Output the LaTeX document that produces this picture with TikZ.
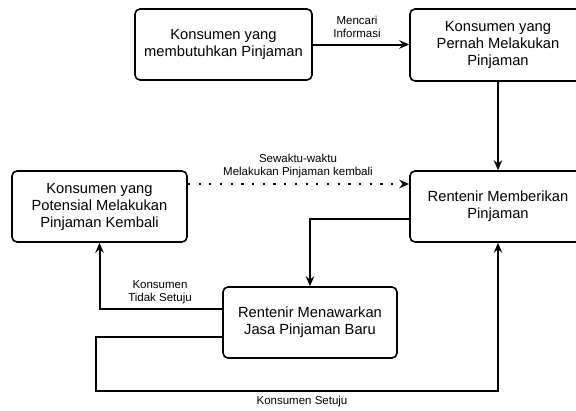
\documentclass[tikz,border=0pt]{standalone}
\usepackage{fontspec}
\setmainfont{Liberation Sans}
\usetikzlibrary{arrows.meta}
\begin{document}
\begin{tikzpicture}[x=1pt,y=-1pt,
  box/.style={draw=black, line width=1.6pt, rounded corners=5pt, fill=white,
    align=center, inner sep=0pt,
    font=\fontsize{14.7}{17}\selectfont},
  conn/.style={line width=2pt, -{Stealth[length=10pt,width=8.5pt,inset=3.5pt]}},
  dotconn/.style={conn, dash pattern=on 2.2pt off 8.5pt},
  lbl/.style={align=center, inner sep=0pt, font=\fontsize{11.5}{13}\selectfont}]
  \useasboundingbox (0,0) rectangle (576,410);
  \clip (0,0) rectangle (576,410);
  \fill[white] (0,0) rectangle (576,410);

  % process boxes
  \node[box, minimum width=177pt, minimum height=71pt] (need) at (223.5,44.5)
    {Konsumen yang\\membutuhkan Pinjaman};
  \node[box, minimum width=176pt, minimum height=72pt] (past) at (498,45)
    {Konsumen yang\\Pernah Melakukan\\Pinjaman};
  \node[box, minimum width=175pt, minimum height=71pt] (potential) at (99.5,206.5)
    {Konsumen yang\\Potensial Melakukan\\Pinjaman Kembali};
  \node[box, minimum width=176pt, minimum height=71pt] (lend) at (498,206.5)
    {Rentenir Memberikan\\Pinjaman};
  \node[box, minimum width=174pt, minimum height=71pt] (offer) at (310,322.5)
    {Rentenir Menawarkan\\Jasa Pinjaman Baru};
  \coordinate (loop) at (96,391);

  % connectors
  \draw[conn] (need.east) -- (need.east -| past.west);
  \draw[conn] (past.south) -- (lend.north);
  \draw[dotconn] ([yshift=22.5pt]potential.east) -- ([yshift=22.5pt]lend.west);
  \draw[conn] ([yshift=-12.5pt]lend.west) -| (offer.north);
  \draw[conn] ([yshift=13.5pt]offer.west) -| (potential.south);
  \draw[conn] ([yshift=-14.5pt]offer.west) -| (loop) -| (lend.south);

  % connector labels
  \node[lbl] (l1) at (357,27) {Mencari\\Informasi};
  \node[lbl] (l2) at (298,166.5) {Sewaktu-waktu\\Melakukan Pinjaman kembali};
  \node[lbl] (l3) at (160,292.5) {Konsumen\\Tidak Setuju};
  \node[lbl] (l4) at (302,402) {Konsumen Setuju};
\end{tikzpicture}
\end{document}
